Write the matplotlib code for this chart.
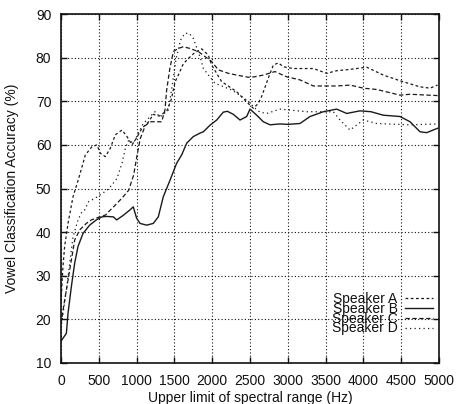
import matplotlib
matplotlib.use("Agg")
import matplotlib.pyplot as plt

plt.rcParams['font.family'] = ['Liberation Sans', 'DejaVu Sans']

# Speaker A (short dashes)
a_hz = [0, 26, 48, 93, 159, 234, 322, 410, 476, 520, 586, 652, 718, 807, 873, 939, 983,
        1071, 1160, 1221, 1300, 1400, 1460, 1510, 1552, 1618, 1684, 1760, 1861, 1948, 1993,
        2125, 2323, 2500, 2544, 2610, 2654, 2742, 2809, 2875, 2941, 3073, 3338, 3515, 3647,
        3823, 4044, 4264, 4484, 4749, 4881, 4980]
a_acc = [24.0, 32.1, 36.7, 42.0, 48.1, 52.3, 57.7, 59.6, 60.0, 58.1, 57.3, 59.2, 62.3, 63.4, 61.9, 60.0, 61.1,
         63.8, 65.3, 67.0, 66.6, 67.8, 70.5, 74.5, 76.0, 78.6, 79.8, 81.0, 82.0, 80.6, 78.3,
         74.5, 72.2, 69.1, 68.4, 69.5, 71.1, 75.3, 78.3, 78.8, 77.9, 77.5, 77.5, 76.4, 77.0,
         77.3, 77.8, 76.0, 74.7, 73.3, 73.0, 73.7]

# Speaker B (solid)
b_hz = [0, 71, 93, 137, 181, 225, 291, 379, 467, 540, 600, 692, 736, 820, 913, 956, 1000,
        1045, 1133, 1221, 1287, 1353, 1442, 1530, 1596, 1663, 1750, 1839, 1883, 1970, 2060,
        2147, 2200, 2280, 2368, 2456, 2500, 2589, 2676, 2765, 2897, 3000, 3161, 3294, 3470,
        3647, 3779, 3955, 4100, 4264, 4484, 4617, 4749, 4837, 4980]
b_acc = [15.0, 16.8, 21.4, 27.5, 32.9, 36.7, 39.7, 41.6, 42.8, 43.5, 43.6, 43.5, 42.8, 43.8, 45.1, 45.8, 43.2,
         42.0, 41.6, 42.0, 43.5, 48.1, 51.9, 55.8, 57.7, 60.4, 61.9, 62.7, 63.0, 64.5, 65.7,
         67.5, 67.7, 67.0, 65.7, 66.5, 68.2, 66.8, 65.3, 64.6, 64.8, 64.7, 64.9, 66.5, 67.6,
         68.2, 67.2, 67.8, 67.6, 66.8, 66.5, 65.3, 63.0, 62.8, 63.8]

# Speaker C (dashed)
c_hz = [0, 48, 93, 137, 181, 247, 335, 401, 512, 586, 718, 807, 895, 961, 1005, 1049, 1115,
        1177, 1331, 1375, 1398, 1440, 1486, 1552, 1618, 1706, 1816, 1993, 2081, 2213, 2324,
        2478, 2560, 2676, 2831, 2986, 3161, 3338, 3647, 3823, 3999, 4176, 4484, 4617, 4980]
c_acc = [19.0, 24.4, 29.0, 33.6, 38.2, 40.5, 42.0, 42.8, 43.5, 43.9, 46.2, 47.8, 49.6, 53.1, 57.5, 61.5, 64.4,
         65.3, 65.3, 68.0, 72.6, 77.5, 81.4, 82.1, 82.5, 82.1, 81.4, 79.1, 77.2, 76.4, 76.0,
         75.5, 75.6, 76.0, 76.8, 75.6, 74.9, 73.5, 73.5, 73.7, 73.0, 72.7, 71.4, 71.6, 71.3]

# Speaker D (dotted)
d_hz = [0, 71, 115, 159, 225, 278, 313, 366, 454, 608, 674, 740, 807, 851, 895, 957, 1089,
        1243, 1310, 1420, 1470, 1520, 1580, 1640, 1700, 1750, 1839, 1883, 2037, 2258, 2456,
        2566, 2632, 2721, 2897, 3250, 3603, 3691, 3823, 3999, 4176, 4617, 4980]
d_acc = [18.0, 26.7, 32.9, 38.9, 42.8, 44.7, 45.1, 47.0, 47.8, 49.6, 50.8, 52.3, 55.8, 59.2, 61.1, 60.4, 64.9,
         67.6, 66.4, 68.0, 73.5, 79.5, 84.0, 85.6, 85.5, 84.4, 80.2, 77.5, 74.1, 72.6, 70.3,
         68.4, 67.5, 67.2, 68.2, 67.6, 67.6, 65.7, 63.4, 65.7, 64.9, 64.6, 64.8]

series_labels = ["Speaker A", "Speaker B", "Speaker C", "Speaker D"]
x_ticks = [0, 500, 1000, 1500, 2000, 2500, 3000, 3500, 4000, 4500, 5000]
y_ticks = [10, 20, 30, 40, 50, 60, 70, 80, 90]

fig = plt.figure(figsize=(4.57, 4.04), dpi=100)
ax = fig.add_axes([61/457, 1 - 363/404, 378/457, 349/404])

col = '#1a1a1a'
ax.plot(a_hz, a_acc, color=col, lw=0.9, linestyle=(0, (2.2, 2.0)), label=series_labels[0])
ax.plot(b_hz, b_acc, color=col, lw=1.0, linestyle='-', label=series_labels[1])
ax.plot(c_hz, c_acc, color=col, lw=0.9, linestyle=(0, (3.5, 2.0)), label=series_labels[2])
ax.plot(d_hz, d_acc, color=col, lw=0.9, linestyle=(0, (1.0, 2.6)), label=series_labels[3])

ax.set_xlim(0, 5000)
ax.set_ylim(10, 90)
ax.set_xticks(x_ticks)
ax.set_yticks(y_ticks)
ax.grid(True, color='#111111', linestyle=(0, (1, 2)), linewidth=0.8)
ax.tick_params(direction='in', length=4, width=1, top=True, right=True,
               labelsize=10, colors='#111111')
ax.tick_params(axis='x', pad=8)
ax.tick_params(axis='y', pad=7)
for s in ax.spines.values():
    s.set_linewidth(1.2)
    s.set_color('#111111')

ax.set_xlabel("Upper limit of spectral range (Hz)", fontsize=10, color='#111111')
ax.set_ylabel("Vowel Classification Accuracy (%)", fontsize=10, color='#111111')
ax.xaxis.set_label_coords(0.5, -0.080)
ax.yaxis.set_label_coords(-0.111, 0.5)

leg = ax.legend(loc='lower right', bbox_to_anchor=(0.984, 0.079), frameon=False,
                markerfirst=False, fontsize=10, labelspacing=-0.30,
                handlelength=2.0, handletextpad=0.55, borderpad=0, borderaxespad=0)
for t in leg.get_texts():
    t.set_color('#111111')

fig.savefig("out.png", dpi=100)
